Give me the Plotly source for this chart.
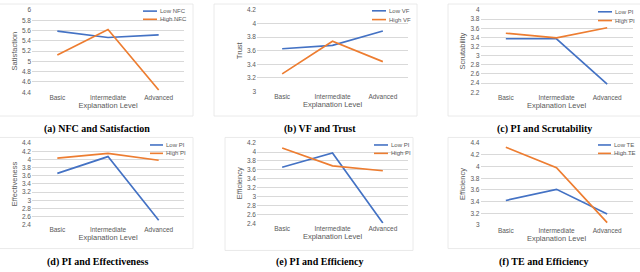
import plotly.graph_objects as go

# ---------------- data ----------------
categories = ["Basic", "Intermediate", "Advanced"]
x_title = "Explanation Level"

a_low = [5.59, 5.465, 5.515]
a_high = [5.124, 5.62, 4.444]
a_ticks = [4.4, 4.6, 4.8, 5, 5.2, 5.4, 5.6, 5.8, 6]

b_low = [3.63, 3.68, 3.89]
b_high = [3.26, 3.74, 3.44]
b_ticks = [3, 3.2, 3.4, 3.6, 3.8, 4, 4.2]

c_low = [3.37, 3.37, 2.38]
c_high = [3.49, 3.39, 3.61]
c_ticks = [2.2, 2.4, 2.6, 2.8, 3, 3.2, 3.4, 3.6, 3.8, 4]

d_low = [3.66, 4.07, 2.51]
d_high = [4.03, 4.15, 3.98]
d_ticks = [2.4, 2.6, 2.8, 3, 3.2, 3.4, 3.6, 3.8, 4, 4.2, 4.4]

e_low = [3.66, 3.98, 2.41]
e_high = [4.09, 3.69, 3.58]
e_ticks = [2.4, 2.6, 2.8, 3, 3.2, 3.4, 3.6, 3.8, 4, 4.2]

f_low = [3.42, 3.61, 3.19]
f_high = [4.33, 3.98, 3.04]
f_ticks = [3, 3.2, 3.4, 3.6, 3.8, 4, 4.2, 4.4]

low_names = ["Low NFC", "Low VF", "Low PI", "Low PI", "Low PI", "Low TE"]
high_names = ["High NFC", "High VF", "High PI", "High PI", "High PI", "High TE"]
y_titles = ["Satisfaction", "Trust", "Scrutability", "Effectiveness", "Efficiency", "Efficiency"]
captions = ["(a) NFC and Satisfaction", "(b) VF and Trust", "(c) PI and Scrutability",
            "(d) PI and Effectiveness", "(e) PI and Efficiency", "(f) TE and Efficiency"]

lows = [a_low, b_low, c_low, d_low, e_low, f_low]
highs = [a_high, b_high, c_high, d_high, e_high, f_high]
ticks = [a_ticks, b_ticks, c_ticks, d_ticks, e_ticks, f_ticks]

# ---------------- layout geometry (pixels) ----------------
W, H = 640, 272
BLUE = "#4472C4"
ORANGE = "#ED7D31"
GRID = "#D9D9D9"
TXT = "#595959"

def px(x):
    return x / W

def py(y):
    return 1 - y / H

# plot areas: (x0, x1, ytop, ybottom)
areas = [
    (32, 184, 6, 90.7),
    (257, 408, 6, 90),
    (480.5, 632.5, 6, 90.7),
    (32, 184, 142.7, 226.7),
    (257, 408, 142.7, 225.3),
    (480.5, 632.5, 142.7, 227),
]
# legend: (line x0, line x1, y row1, y row2)
legends = [
    (143, 157, 7.3, 15.7),
    (372, 386, 7, 16),
    (598, 612, 8, 17),
    (150, 163, 144.7, 153.3),
    (374, 388, 144.7, 153.3),
    (598, 611, 144.7, 153.3),
]
caption_pos = [(97, 128), (320, 128), (544, 128), (97, 265), (320, 265), (544, 265)]
frames = [(-2, 0, 193, 115), (214, 0, 417, 115), (448, 0, 642, 115),
          (-2, 137, 193, 251), (225, 137, 413, 253), (448, 137, 642, 251)]

fig = go.Figure()
shapes = []
annotations = []
layout = {}

for i in range(6):
    n = i + 1
    xs = "x" if n == 1 else f"x{n}"
    ys = "y" if n == 1 else f"y{n}"
    xa = "xaxis" if n == 1 else f"xaxis{n}"
    ya = "yaxis" if n == 1 else f"yaxis{n}"
    x0, x1, yt, yb = areas[i]
    fig.add_trace(go.Scatter(x=categories, y=lows[i], mode="lines", name=low_names[i],
                             line=dict(color=BLUE, width=1.7), xaxis=xs, yaxis=ys,
                             showlegend=False))
    fig.add_trace(go.Scatter(x=categories, y=highs[i], mode="lines", name=high_names[i],
                             line=dict(color=ORANGE, width=1.7), xaxis=xs, yaxis=ys,
                             showlegend=False))
    tv = ticks[i]
    layout[xa] = dict(domain=[px(x0), px(x1)], anchor=ys, type="category",
                      range=[-0.5, 2.5], showgrid=False, zeroline=False,
                      showline=False, ticks="",
                      tickfont=dict(size=6.5, color=TXT, family="Liberation Sans"),
                      title=dict(text=x_title, standoff=1,
                                 font=dict(size=7.5, color=TXT, family="Liberation Sans")))
    layout[ya] = dict(domain=[py(yb), py(yt)], anchor=xs,
                      range=[tv[0] - 0.002, tv[-1] + 0.002],
                      tickvals=tv, ticktext=[f"{v:g}" for v in tv],
                      showgrid=True, gridcolor=GRID, gridwidth=0.8, zeroline=False,
                      showline=False, ticks="",
                      tickfont=dict(size=6.5, color=TXT, family="Liberation Sans"),
                      title=dict(text=y_titles[i], standoff=3,
                                 font=dict(size=7.5, color=TXT, family="Liberation Sans")))
    # legend
    lx0, lx1, r1, r2 = legends[i]
    for yy, col, name in [(r1, BLUE, low_names[i]), (r2, ORANGE, high_names[i])]:
        shapes.append(dict(type="line", xref="paper", yref="paper",
                           x0=px(lx0), x1=px(lx1), y0=py(yy), y1=py(yy),
                           line=dict(color=col, width=1.6)))
        annotations.append(dict(xref="paper", yref="paper", x=px(lx1 + 0.5), y=py(yy),
                                xanchor="left", yanchor="middle", showarrow=False,
                                text=name,
                                font=dict(size=6, color=TXT, family="Liberation Sans")))
    # frame
    fx0, fy0, fx1, fy1 = frames[i]
    shapes.append(dict(type="rect", xref="paper", yref="paper",
                       x0=px(fx0), x1=px(fx1), y0=py(fy1), y1=py(fy0),
                       line=dict(color="#E4E4E4", width=0.8), layer="below"))
    cx, cy = caption_pos[i]
    annotations.append(dict(xref="paper", yref="paper", x=px(cx), y=py(cy),
                            xanchor="center", yanchor="middle", showarrow=False,
                            text=f"<b>{captions[i]}</b>",
                            font=dict(size=10, color="black", family="Liberation Serif")))

fig.update_layout(**layout)
fig.update_layout(width=W, height=H, margin=dict(l=0, r=0, t=0, b=0),
                  paper_bgcolor="white", plot_bgcolor="white",
                  shapes=shapes, annotations=annotations, showlegend=False)

fig.write_html("out.html", config={"displayModeBar": False},
               post_script="document.body.style.margin='0';document.body.style.padding='0';")
